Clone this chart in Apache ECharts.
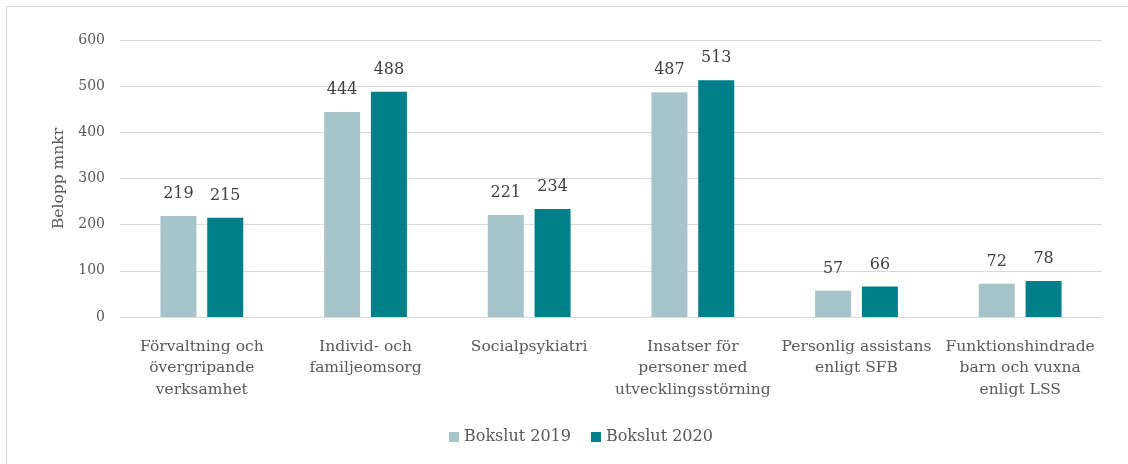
<!DOCTYPE html>
<html>
<head>
<meta charset="utf-8">
<script src="https://cdn.jsdelivr.net/npm/echarts@6/dist/echarts.min.js"></script>
<style>
  html, body { margin: 0; padding: 0; background: #fff; }
  #frame { position: absolute; left: 6px; top: 6px; width: 1130px; height: 470px; border-left: 1.5px solid #d9d9d9; border-top: 1.5px solid #d9d9d9; }
  #chart { position: absolute; left: 0; top: 0; width: 1128px; height: 464px; }
</style>
</head>
<body>
<div id="frame"></div>
<div id="chart"></div>
<script>
var categories = [
  'Förvaltning och\növergripande\nverksamhet',
  'Individ- och\nfamiljeomsorg',
  'Socialpsykiatri',
  'Insatser för\npersoner med\nutvecklingsstörning',
  'Personlig assistans\nenligt SFB',
  'Funktionshindrade\nbarn och vuxna\nenligt LSS'
];
var bokslut2019 = [219, 444, 221, 487, 57, 72];
var bokslut2020 = [215, 488, 234, 513, 66, 78];

var serif = 'DejaVu Serif';
var chart = echarts.init(document.getElementById('chart'));
var option = {
  animation: false,
  textStyle: { fontFamily: serif },
  grid: { left: 120, right: 26, top: 40, bottom: 147 },
  legend: {
    bottom: 14,
    left: 444,
    itemWidth: 10,
    itemHeight: 10,
    itemGap: 20,
    icon: 'rect',
    textStyle: { fontFamily: serif, fontSize: 16, color: '#595959' },
    data: ['Bokslut 2019', 'Bokslut 2020']
  },
  xAxis: {
    type: 'category',
    data: categories,
    axisLine: { lineStyle: { color: '#d9d9d9' } },
    axisTick: { show: false },
    axisLabel: { interval: 0, fontFamily: serif, fontSize: 15.5, color: '#595959', lineHeight: 21.5, margin: 19 }
  },
  yAxis: {
    type: 'value',
    min: 0, max: 600, interval: 100,
    name: 'Belopp mnkr',
    nameLocation: 'middle',
    nameGap: 53,
    nameRotate: 90,
    nameTextStyle: { fontFamily: serif, fontSize: 15.5, color: '#595959' },
    axisLabel: { fontFamily: serif, fontSize: 14, color: '#595959', margin: 15 },
    splitLine: { lineStyle: { color: '#d9d9d9', width: 1 } }
  },
  series: [
    {
      name: 'Bokslut 2019', type: 'bar', data: bokslut2019,
      itemStyle: { color: '#a7c4c8' },
      barWidth: 36, barGap: '30%',
      label: { show: true, position: 'top', distance: 14, fontFamily: serif, fontSize: 16, color: '#404040' }
    },
    {
      name: 'Bokslut 2020', type: 'bar', data: bokslut2020,
      itemStyle: { color: '#007e8a' },
      barWidth: 36,
      label: { show: true, position: 'top', distance: 14, fontFamily: serif, fontSize: 16, color: '#404040' }
    }
  ]
};
chart.setOption(option);
</script>
</body>
</html>
